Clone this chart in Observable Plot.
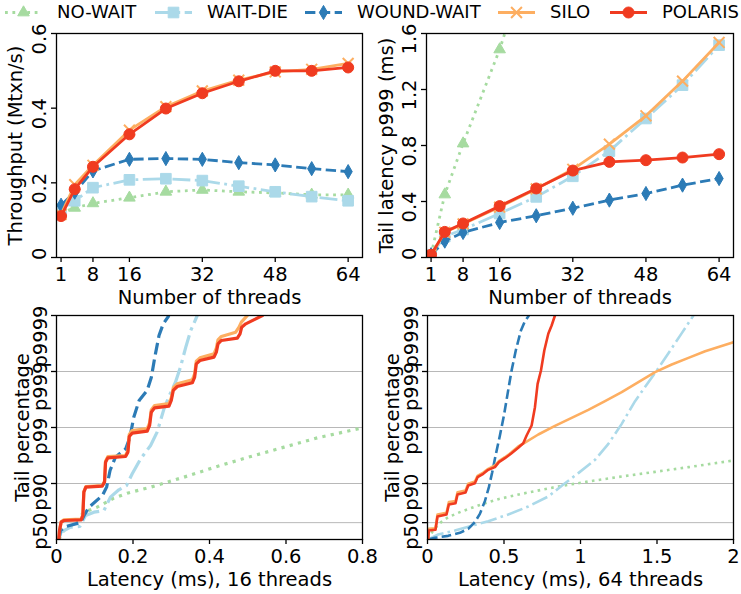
<!DOCTYPE html>
<html><head><meta charset="utf-8">
<script src="https://cdn.jsdelivr.net/npm/d3@7"></script>
<script src="https://cdn.jsdelivr.net/npm/@observablehq/plot@0.6"></script>
<style>
body{margin:0;background:#fff;font-family:"DejaVu Sans",sans-serif;}
#root{position:relative;width:741px;height:594px;overflow:hidden;}
</style></head><body><div id="root"></div>
<script>
// ---------- data ----------
const series = ["NO-WAIT","WAIT-DIE","WOUND-WAIT","SILO","POLARIS"];
const threads = [1,4,8,16,24,32,40,48,56,64];
const threadTicks = [1,8,16,32,48,64];

// Throughput (Mtxn/s)
const tputNoWait    = [0.120,0.133,0.145,0.160,0.176,0.181,0.176,0.173,0.168,0.168];
const tputWaitDie   = [0.130,0.152,0.187,0.208,0.211,0.206,0.191,0.176,0.163,0.152];
const tputWoundWait = [0.140,0.175,0.232,0.263,0.265,0.263,0.254,0.248,0.238,0.230];
const tputSilo      = [0.115,0.195,0.247,0.341,0.404,0.446,0.475,0.497,0.504,0.520];
const tputPolaris   = [0.111,0.183,0.243,0.330,0.399,0.440,0.472,0.500,0.500,0.509];
const tputTicks = [0,0.2,0.4,0.6];

// Tail latency p999 (ms)
const p999NoWait    = [0.02,0.45,0.814,1.486,2.3];
const p999WaitDie   = [0.02,0.15,0.20,0.314,0.433,0.58,0.76,0.993,1.231,1.517];
const p999WoundWait = [0.02,0.117,0.179,0.25,0.298,0.352,0.41,0.457,0.517,0.564];
const p999Silo      = [0.02,0.18,0.24,0.36,0.49,0.63,0.81,1.012,1.26,1.536];
const p999Polaris   = [0.02,0.183,0.243,0.367,0.493,0.621,0.683,0.695,0.714,0.738];
const p999Ticks = [0,0.4,0.8,1.2,1.6];

// Tail percentage axis: value = -log10(1 - p)
const tailTicks = [0.30103,1,2,3,4];
const tailTickLabels = ["p50","p90","p99","p999","p9999"];

// Latency CDF, 16 threads: [latency ms, nines]
const c16NoWait = [[0.006,0],[0.019,0.161],[0.045,0.28],[0.072,0.488],[0.106,0.577],[0.150,0.738],[0.185,0.827],[0.246,0.935],[0.333,1.113],[0.420,1.304],[0.508,1.482],[0.595,1.649],[0.682,1.815],[0.800,1.994]];
const c16WaitDie = [[0.006,0],[0.012,0.131],[0.037,0.22],[0.061,0.232],[0.076,0.429],[0.098,0.488],[0.124,0.518],[0.141,0.756],[0.163,0.887],[0.183,0.964],[0.198,1.173],[0.220,1.44],[0.246,1.679],[0.263,1.917],[0.281,2.333],[0.294,2.554],[0.311,2.81],[0.324,3.077],[0.338,3.435],[0.351,3.732],[0.368,4.0]];
const c16WoundWait = [[0.006,0],[0.0105,0.161],[0.024,0.232],[0.063,0.304],[0.072,0.429],[0.085,0.577],[0.120,0.786],[0.131,0.935],[0.140,1.232],[0.154,1.47],[0.181,1.619],[0.192,1.827],[0.202,2.185],[0.216,2.482],[0.237,2.661],[0.248,2.899],[0.257,3.256],[0.268,3.643],[0.279,3.851],[0.294,4.0]];
const c16Silo = [[0.0061,0],[0.0079,0.161],[0.0122,0.321],[0.0192,0.351],[0.0646,0.363],[0.0689,0.446],[0.0715,0.857],[0.0768,0.946],[0.1195,0.964],[0.1256,1.042],[0.1282,1.399],[0.1344,1.482],[0.1806,1.5],[0.1867,1.589],[0.1902,1.875],[0.198,1.946],[0.2373,1.982],[0.2434,2.083],[0.2478,2.315],[0.2565,2.393],[0.294,2.429],[0.3001,2.53],[0.3053,2.708],[0.3158,2.78],[0.3551,2.851],[0.3612,2.958],[0.3655,3.185],[0.3751,3.244],[0.4118,3.315],[0.4179,3.417],[0.4222,3.565],[0.431,3.625],[0.4685,3.702],[0.4772,3.792],[0.4833,3.881],[0.499,4.0]];
const c16Polaris = [[0.0061,0],[0.0079,0.161],[0.0122,0.31],[0.0192,0.339],[0.0646,0.351],[0.0689,0.429],[0.0715,0.845],[0.0768,0.935],[0.1195,0.952],[0.1256,1.024],[0.1282,1.381],[0.1344,1.458],[0.1806,1.482],[0.1867,1.56],[0.1902,1.839],[0.198,1.899],[0.2373,1.935],[0.2434,2.036],[0.2478,2.274],[0.2565,2.351],[0.294,2.381],[0.3001,2.482],[0.3053,2.661],[0.3158,2.732],[0.3551,2.798],[0.3612,2.899],[0.3655,3.137],[0.3751,3.196],[0.4118,3.256],[0.4179,3.345],[0.4222,3.494],[0.431,3.554],[0.4728,3.595],[0.4798,3.673],[0.4842,3.792],[0.4947,3.851],[0.5383,4.0]];

// Latency CDF, 64 threads: [latency ms, nines]
const c64NoWait = [[0.0044,0],[0.0371,0.161],[0.0807,0.292],[0.1352,0.399],[0.2225,0.5],[0.3315,0.607],[0.4624,0.72],[0.615,0.815],[0.8331,0.935],[1.0513,1.036],[1.2694,1.125],[1.4875,1.208],[1.7056,1.292],[2.0,1.411]];
const c64WaitDie = [[0.0044,0],[0.0698,0.089],[0.1788,0.161],[0.2879,0.244],[0.3969,0.327],[0.5278,0.446],[0.6587,0.589],[0.7895,0.768],[0.8877,0.982],[0.9858,1.185],[1.0949,1.423],[1.1821,1.708],[1.2694,2.065],[1.3566,2.47],[1.4438,2.81],[1.4984,3.018],[1.5747,3.327],[1.662,3.685],[1.7383,4.0]];
const c64WoundWait = [[0.0044,0],[0.048,0.03],[0.1352,0.065],[0.2116,0.119],[0.2661,0.19],[0.3097,0.31],[0.3424,0.458],[0.3751,0.685],[0.4013,0.935],[0.4231,1.202],[0.4449,1.5],[0.4733,1.857],[0.4995,2.214],[0.5234,2.601],[0.5496,3.018],[0.578,3.387],[0.6107,3.732],[0.6369,3.899],[0.663,4.0]];
const c64Silo = [[0.0044,0],[0.0087,0.19],[0.0523,0.202],[0.0654,0.446],[0.1243,0.476],[0.1396,0.667],[0.1832,0.685],[0.1963,0.845],[0.2486,0.875],[0.2661,0.994],[0.3097,1.036],[0.3272,1.137],[0.3642,1.196],[0.3969,1.262],[0.4406,1.321],[0.4667,1.399],[0.506,1.47],[0.5453,1.548],[0.5932,1.661],[0.6369,1.732],[0.7241,1.875],[0.8331,2.03],[0.9422,2.173],[1.0513,2.315],[1.1603,2.47],[1.2694,2.631],[1.3784,2.81],[1.4875,2.988],[1.5965,3.125],[1.7056,3.244],[1.8146,3.363],[2.0,3.524]];
const c64Polaris = [[0.0044,0],[0.0087,0.161],[0.0523,0.173],[0.0654,0.411],[0.1243,0.446],[0.1396,0.625],[0.1832,0.649],[0.1963,0.804],[0.2486,0.839],[0.2661,0.964],[0.3097,1.006],[0.3272,1.113],[0.3642,1.173],[0.3969,1.244],[0.4406,1.292],[0.4667,1.381],[0.506,1.452],[0.5453,1.53],[0.5932,1.637],[0.626,1.72],[0.6478,1.857],[0.6805,2.036],[0.7023,2.363],[0.7197,2.78],[0.7416,3.018],[0.7634,3.375],[0.7895,3.673],[0.8113,3.821],[0.8331,4.0]];

// ---------- styles ----------
const colors  = ["#a6dba0","#abd9e9","#2c7bb6","#fdae61","#f03b20"];
const symbols = ["triangle","square","diamond","times","circle"];
const radii   = [4.3,6,4.3,5,5.5];
const dashKinds = ["dotted","dashdot","dashed","solid","solid"];
function dashFor(kind, lw) {
  if (kind === "dotted") return `${lw} ${1.65*lw}`;
  if (kind === "dashed") return `${3.7*lw} ${1.6*lw}`;
  if (kind === "dashdot") return `${6.4*lw} ${1.6*lw} ${lw} ${1.6*lw}`;
  return null;
}
const FONT = "DejaVu Sans";
const root = document.getElementById("root");
function place(el, left, top) {
  el.style.position = "absolute"; el.style.left = left + "px"; el.style.top = top + "px";
  root.appendChild(el);
}

function seriesMarks(i, pts, lw, withDots) {
  const kind = dashKinds[i];
  const marks = [Plot.line(pts, {x: d => d[0], y: d => d[1], stroke: colors[i], strokeWidth: lw,
    strokeDasharray: dashFor(kind, lw), strokeLinecap: kind === "solid" ? "round" : "butt",
    strokeLinejoin: "round", clip: true})];
  if (withDots) {
    const isStroke = symbols[i] === "times";
    marks.push(Plot.dot(pts, {x: d => d[0], y: d => d[1], symbol: symbols[i], r: radii[i],
      fill: isStroke ? "none" : colors[i], stroke: colors[i], strokeWidth: isStroke ? 2 : 1, clip: true}));
  }
  return marks;
}

function panel(o) {
  return Plot.plot({
    width: o.width, height: o.height,
    marginLeft: o.mL, marginRight: o.mR, marginTop: o.mT, marginBottom: o.mB,
    style: {fontFamily: FONT, fontSize: "19.5px", color: "black", background: "transparent", overflow: "visible"},
    x: {domain: o.xDomain},
    y: {domain: o.yDomain},
    marks: [
      o.grid ? Plot.gridY({ticks: o.yTicks, stroke: "#b8b8b8", strokeOpacity: 1, strokeWidth: 1}) : null,
      ...o.marks,
      Plot.frame({stroke: "black", strokeWidth: 1.3}),
      Plot.axisX({ticks: o.xTicks, tickFormat: o.xFmt, tickSize: 5, tickPadding: 5, strokeWidth: 1.3,
        label: o.xLabel, labelAnchor: "center", labelArrow: "none", labelOffset: 46}),
      Plot.axisY({ticks: o.yTicks, tickFormat: () => "", tickSize: 5, strokeWidth: 1.3,
        label: o.yLabel, labelAnchor: "center", labelArrow: "none", labelOffset: o.yLO}),
      Plot.axisY({ticks: o.yTicks, tickFormat: o.yFmt, tickSize: 0, tickPadding: o.yPad, tickRotate: -90,
        textAnchor: "end", lineAnchor: "bottom", dy: -10, label: null})
    ]
  });
}

const numFmt = d => String(d);
const tailMap = new Map(tailTicks.map((t, i) => [t, tailTickLabels[i]]));
const tailFmt = d => tailMap.get(d) ?? "";

const tputSeries = [tputNoWait, tputWaitDie, tputWoundWait, tputSilo, tputPolaris];
const p999Series = [p999NoWait, p999WaitDie, p999WoundWait, p999Silo, p999Polaris];
const c16Series = [c16NoWait, c16WaitDie, c16WoundWait, c16Silo, c16Polaris];
const c64Series = [c64NoWait, c64WaitDie, c64WoundWait, c64Silo, c64Polaris];
const zipT = vals => vals.map((v, j) => [threads[j], v]);

// Panel A
place(panel({width: 370, height: 280, mL: 56, mR: 8, mT: 8, mB: 48,
  xDomain: [0, 67.15], xTicks: threadTicks, xFmt: numFmt, xLabel: "Number of threads",
  yDomain: [0, 0.6], yTicks: tputTicks, yFmt: numFmt, yLabel: "Throughput (Mtxn/s)", yLO: 48, yPad: 10.5,
  marks: tputSeries.flatMap((v, i) => seriesMarks(i, zipT(v), 2.8, true))}), 0, 25);

// Panel B
place(panel({width: 371, height: 280, mL: 56, mR: 8, mT: 8, mB: 48,
  xDomain: [0, 67.15], xTicks: threadTicks, xFmt: numFmt, xLabel: "Number of threads",
  yDomain: [0, 1.6], yTicks: p999Ticks, yFmt: numFmt, yLabel: "Tail latency p999 (ms)", yLO: 47, yPad: 10.5,
  marks: p999Series.flatMap((v, i) => seriesMarks(i, zipT(v), 2.8, true))}), 370, 25);

// Panel C
place(panel({width: 370, height: 289, mL: 56, mR: 8, mT: 10, mB: 55,
  xDomain: [0, 0.8], xTicks: [0,0.2,0.4,0.6,0.8], xFmt: numFmt, xLabel: "Latency (ms), 16 threads",
  yDomain: [0, 4], yTicks: tailTicks, yFmt: tailFmt, yLabel: "Tail percentage", yLO: 41, yPad: 9.5, grid: true,
  marks: c16Series.flatMap((v, i) => seriesMarks(i, v, 3.2, false))}), 0, 305);

// Panel D
place(panel({width: 371, height: 289, mL: 57, mR: 8, mT: 10, mB: 55,
  xDomain: [0, 2], xTicks: [0,0.5,1,1.5,2], xFmt: numFmt, xLabel: "Latency (ms), 64 threads",
  yDomain: [0, 4], yTicks: tailTicks, yFmt: tailFmt, yLabel: "Tail percentage", yLO: 42, yPad: 9.5, grid: true,
  marks: c64Series.flatMap((v, i) => seriesMarks(i, v, 2.6, false))}), 370, 305);

// Legend (above the charts)
const legX = [5, 155, 305, 498, 610];
const d3Sym = {triangle: d3.symbolTriangle, square: d3.symbolSquare, diamond: d3.symbolDiamond, times: d3.symbolTimes, circle: d3.symbolCircle};
const leg = d3.create("svg").attr("width", 741).attr("height", 26).style("overflow", "visible");
series.forEach((s, i) => {
  const g = leg.append("g").attr("transform", `translate(${legX[i]},12.5)`);
  g.append("line").attr("x1", 0).attr("x2", 37).attr("stroke", colors[i]).attr("stroke-width", 2.8)
    .attr("stroke-dasharray", dashFor(dashKinds[i], 2.8)).attr("stroke-linecap", "butt");
  const isStroke = symbols[i] === "times";
  g.append("path").attr("transform", "translate(18.5,0)")
    .attr("d", d3.symbol(d3Sym[symbols[i]], Math.PI * radii[i] * radii[i])())
    .attr("fill", isStroke ? "none" : colors[i]).attr("stroke", colors[i]).attr("stroke-width", isStroke ? 2 : 1);
  g.append("text").attr("x", 52).attr("y", 5).attr("font-family", FONT).attr("font-size", 18)
    .attr("fill", "black").text(s);
});
place(leg.node(), 0, 0);
</script></body></html>
